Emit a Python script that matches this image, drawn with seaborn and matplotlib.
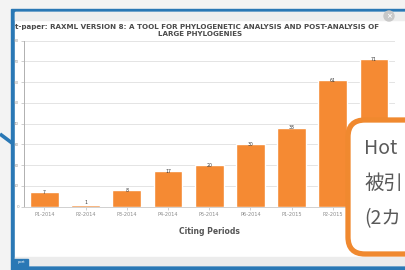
import matplotlib
matplotlib.use("Agg")
import matplotlib.pyplot as plt
from matplotlib.patches import Rectangle, FancyBboxPatch
import seaborn as sns
import pandas as pd

periods = ["P1-2014", "P2-2014", "P3-2014", "P4-2014", "P5-2014",
           "P6-2014", "P1-2015", "P2-2015", "P3-2015"]
citations = [7, 1, 8, 17, 20, 30, 38, 61, 71]
y_ticks = [0, 10, 20, 30, 40, 50, 60, 70, 80]
title_line1 = "t-paper: RAXML VERSION 8: A TOOL FOR PHYLOGENETIC ANALYSIS AND POST-ANALYSIS OF"
title_line2 = "LARGE PHYLOGENIES"
callout_lines = ["Hot", "被引", "(2カ"]

sns.set_theme(style="white")
plt.rcParams['font.family'] = ['DejaVu Sans', 'Noto Sans CJK JP']

W, H = 406, 270
fig = plt.figure(figsize=(W / 100, H / 100), dpi=100)
fig.patch.set_facecolor("#f4f4f4")

def px_axes(x0, y0, x1, y1, **kw):
    return fig.add_axes([x0 / W, 1 - y1 / H, (x1 - x0) / W, (y1 - y0) / H], **kw)

# ---- background decoration layer ----
bg = px_axes(0, 0, W, H, zorder=0)
bg.set_xlim(0, W); bg.set_ylim(H, 0); bg.axis("off")
bg.add_patch(Rectangle((0, 0), W, H, color="#f3f3f3"))
bg.add_patch(Rectangle((11, 8.5), W, 261, color="#2a78b5"))          # blue frame
bg.add_patch(Rectangle((15, 12), W, 253, color="white"))             # content
bg.add_patch(Rectangle((15, 12), W, 8, color="#eeeeee"))             # top strip
bg.add_patch(Rectangle((15, 257), W, 8, color="#ececec"))            # bottom strip
bg.add_patch(Rectangle((14, 259), 14, 7, color="#2a78b5"))
bg.text(21, 262.5, "port", fontsize=2.6, color="white", ha="center", va="center")
bg.plot([0, 12], [134, 143], color="#2a78b5", lw=2.6, solid_capstyle="butt")
bg.add_patch(plt.Circle((389, 16), 5, color="#c8c8c8"))
bg.text(389, 16, "×", fontsize=5, color="white", ha="center", va="center", weight="bold")
bg.text(15, 27.5, title_line1, fontsize=5.15, weight="bold", color="#4a4a4a",
        ha="left", va="center")
bg.text(200, 34, title_line2, fontsize=5.15, weight="bold", color="#4a4a4a",
        ha="center", va="center")

# ---- chart ----
ax = px_axes(23.8, 40.6, 394.6, 206.7, zorder=1)
ax.set_facecolor("white")
df = pd.DataFrame({"period": periods, "citations": citations})
sns.barplot(data=df, x="period", y="citations", color="#f58a33", saturation=1,
            width=0.7, ax=ax)
for i, v in enumerate(citations):
    ax.text(i, v, str(v), fontsize=3.3, color="#333333", ha="center",
            va="center" if v > 3 else "bottom")
ax.set_ylim(0, 80)
ax.set_xlim(-0.5, len(periods) - 0.5)
ax.set_yticks(y_ticks)
ax.set_yticklabels([str(t) for t in y_ticks], fontsize=3, color="#999999")
ax.tick_params(axis="y", length=2, width=0.5, color="#bbbbbb", pad=1.5, left=True)
ax.tick_params(axis="x", labelsize=3.6, labelcolor="#8a8a8a", length=2, width=0.5,
               color="#bbbbbb", pad=2, bottom=True)
ax.yaxis.grid(True, color="#e4e4e4", lw=0.7)
ax.set_axisbelow(True)
for s in ["top", "right"]:
    ax.spines[s].set_visible(False)
ax.spines["left"].set_color("#b0b0b0"); ax.spines["left"].set_linewidth(0.7)
ax.spines["bottom"].set_color("#d0d0d0"); ax.spines["bottom"].set_linewidth(0.7)
ax.set_ylabel("")
ax.set_xlabel("Citing Periods", fontsize=5.5, weight="bold", color="#555555", labelpad=7)

# ---- callout overlay ----
ov = px_axes(0, 0, W, H, zorder=3)
ov.set_xlim(0, W); ov.set_ylim(H, 0); ov.axis("off"); ov.patch.set_alpha(0)
ov.add_patch(FancyBboxPatch((348, 120), 120, 134, boxstyle="round,pad=0,rounding_size=17",
                            facecolor="white", edgecolor="#f0892f", lw=3.8))
for k, line in enumerate(callout_lines):
    ov.text(364, 148 + k * 35.5, line, fontsize=14, color="#5a5a5a", ha="left",
            va="center", family=["Noto Sans CJK JP", "DejaVu Sans"])

fig.savefig("out.png", dpi=100)
